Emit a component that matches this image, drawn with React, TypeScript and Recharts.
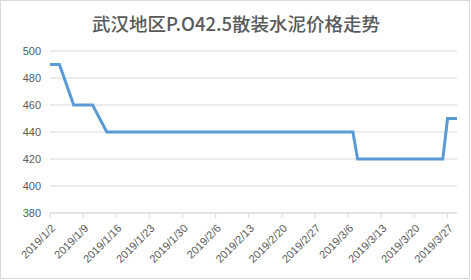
import { CartesianGrid, Line, LineChart, XAxis, YAxis } from "recharts";

// Weekday quotes (yuan/ton) for P.O42.5 bulk cement in Wuhan
const dates = [
  "2019/1/2", "2019/1/3", "2019/1/4",
  "2019/1/7", "2019/1/8", "2019/1/9", "2019/1/10", "2019/1/11",
  "2019/1/14", "2019/1/15", "2019/1/16", "2019/1/17", "2019/1/18",
  "2019/1/21", "2019/1/22", "2019/1/23", "2019/1/24", "2019/1/25",
  "2019/1/28", "2019/1/29", "2019/1/30", "2019/1/31", "2019/2/1",
  "2019/2/11", "2019/2/12", "2019/2/13", "2019/2/14", "2019/2/15",
  "2019/2/18", "2019/2/19", "2019/2/20", "2019/2/21", "2019/2/22",
  "2019/2/25", "2019/2/26", "2019/2/27", "2019/2/28", "2019/3/1",
  "2019/3/4", "2019/3/5", "2019/3/6", "2019/3/7", "2019/3/8",
  "2019/3/11", "2019/3/12", "2019/3/13", "2019/3/14", "2019/3/15",
  "2019/3/18", "2019/3/19", "2019/3/20", "2019/3/21", "2019/3/22",
  "2019/3/25", "2019/3/26", "2019/3/27", "2019/3/28", "2019/3/29",
];

const prices = [
  490, 490, 490,
  460, 460, 460, 460, 460,
  440, 440, 440, 440, 440,
  440, 440, 440, 440, 440,
  440, 440, 440, 440, 440,
  440, 440, 440, 440, 440,
  440, 440, 440, 440, 440,
  440, 440, 440, 440, 440,
  440, 440, 440, 440, 420,
  420, 420, 420, 420, 420,
  420, 420, 420, 420, 420,
  420, 420, 450, 450, 450,
];

const tickDates = [
  "2019/1/2", "2019/1/9", "2019/1/16", "2019/1/23", "2019/1/30", "2019/2/6", "2019/2/13",
  "2019/2/20", "2019/2/27", "2019/3/6", "2019/3/13", "2019/3/20", "2019/3/27",
];

const yTicks = [380, 400, 420, 440, 460, 480, 500];

const FIRST_DAY = "2019/1/2";
const LAST_DAY = "2019/3/29";

// days since the first quote, so the x axis behaves like a date axis
const dayOf = (s: string) => {
  const [y, m, d] = s.split("/").map(Number);
  const [y0, m0, d0] = FIRST_DAY.split("/").map(Number);
  return Math.round((Date.UTC(y, m - 1, d) - Date.UTC(y0, m0 - 1, d0)) / 86400000);
};

const data = dates.map((d, i) => ({ day: dayOf(d), price: prices[i] }));
const labelByDay: Record<number, string> = {};
tickDates.forEach((d) => (labelByDay[dayOf(d)] = d));

const TEXT = "#595959";
const GRID = "#D9D9D9";
const FONT = "'Liberation Sans', Arial, sans-serif";

const DateTick = ({ x, y, payload }: any) => (
  <g transform={`translate(${x + 6},${y + 9})`}>
    <text textAnchor="end" transform="rotate(-45)" fill={TEXT} fontSize={11} fontFamily={FONT}>
      {labelByDay[payload.value]}
    </text>
  </g>
);

export default function App() {
  return (
    <div
      style={{
        position: "absolute",
        left: 0,
        top: 0,
        width: 470,
        height: 279,
        border: `1px solid ${GRID}`,
        boxSizing: "border-box",
        background: "#fff",
      }}
    >
      <div
        style={{
          position: "absolute",
          left: 0,
          top: 9,
          width: 470,
          textAlign: "center",
          fontFamily: "'Noto Sans CJK SC', sans-serif",
          fontSize: 18.5,
          fontWeight: 500,
          color: TEXT,
          lineHeight: "26px",
        }}
      >
        武汉地区P.O42.5散装水泥价格走势
      </div>
      <LineChart
        width={470}
        height={279}
        data={data}
        margin={{ top: 50, right: 14, bottom: 0, left: -1 }}
        style={{ position: "absolute", left: 0, top: 0 }}
      >
        <CartesianGrid horizontal vertical={false} stroke={GRID} />
        <XAxis
          type="number"
          dataKey="day"
          domain={[0, dayOf(LAST_DAY)]}
          ticks={tickDates.map(dayOf)}
          tick={<DateTick />}
          stroke={GRID}
          tickLine={{ stroke: GRID }}
          tickSize={5}
          tickMargin={2}
          height={67}
          interval={0}
        />
        <YAxis
          domain={[380, 500]}
          ticks={yTicks}
          axisLine={false}
          tickLine={false}
          tickSize={0}
          tickMargin={9}
          width={50}
          tick={{ fill: TEXT, fontSize: 11, fontFamily: FONT }}
        />
        <Line
          type="linear"
          dataKey="price"
          stroke="#5B9BD5"
          strokeWidth={3}
          dot={false}
          isAnimationActive={false}
        />
      </LineChart>
    </div>
  );
}
